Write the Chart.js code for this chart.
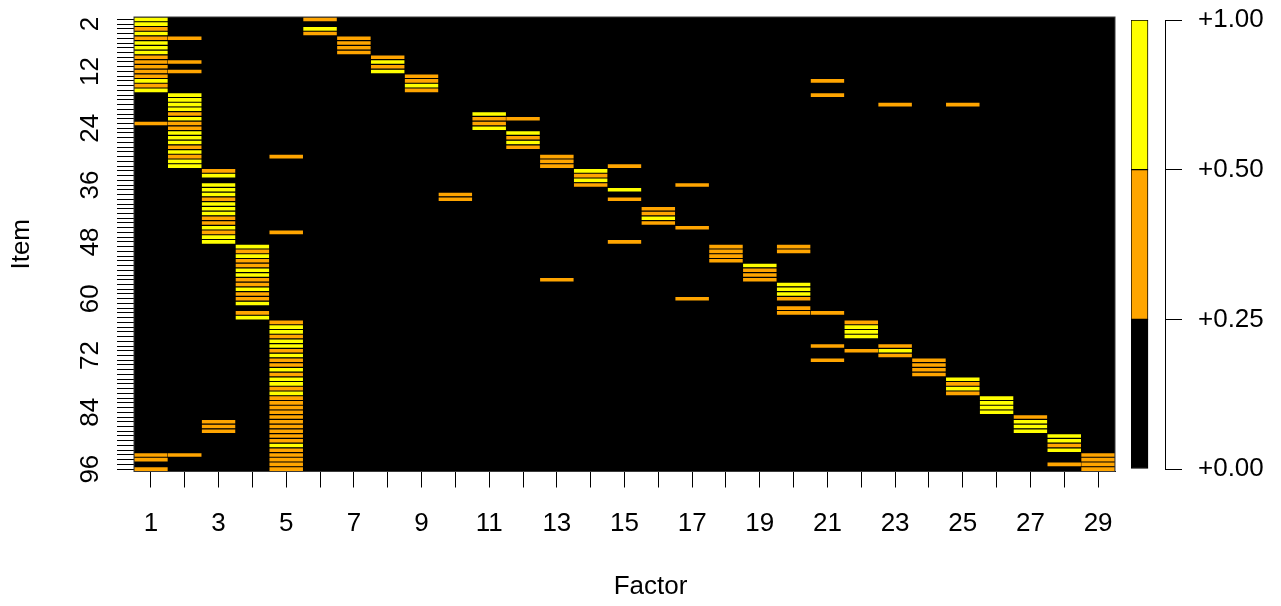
<!DOCTYPE html>
<html>
<head>
<meta charset="utf-8">
<title>Factor loadings</title>
<script src="https://cdn.jsdelivr.net/npm/chart.js"></script>
<style>
  html, body { margin: 0; padding: 0; background: #fff; }
  #wrap { position: relative; width: 1281px; height: 606px; }
  #loadings { position: absolute; left: 0; top: 0; }
  #key { position: absolute; left: 1120px; top: 0; }
</style>
</head>
<body>
<div id="wrap">
  <canvas id="loadings" width="1281" height="606"></canvas>
  <canvas id="key" width="161" height="606"></canvas>
</div>
<script>
// factors along x, items along y (1 at the top)
const factors = Array.from({ length: 29 }, (_, i) => String(i + 1));
const itemCount = 96;
const itemTicks = [2, 12, 24, 36, 48, 60, 72, 84, 96];

// items per factor with a loading in 0.25 - 0.50
const moderate = [
  [3, 5, 9, 10, 11, 12, 13, 15, 23, 93, 94, 96],
  [5, 10, 12, 21, 23, 24, 28, 30, 93],
  [33, 39, 43, 44, 46, 86, 87, 88],
  [50, 52, 53, 56, 57, 59, 60, 63],
  [30, 46, 65, 68, 71, 73, 74, 76, 79, 81, 82, 83, 84, 85, 86, 87, 88, 89, 90, 92, 93, 94, 95, 96],
  [1, 4],
  [5, 6, 7, 8],
  [9, 11],
  [13, 14, 16],
  [38, 39],
  [22, 23],
  [22, 26, 28],
  [30, 31, 32, 56],
  [34, 36],
  [32, 39, 48],
  [41, 42, 44],
  [36, 45, 60],
  [49, 50, 51, 52],
  [54, 55, 56],
  [49, 50, 60, 62, 63],
  [14, 17, 63, 70, 73],
  [65, 71],
  [19, 70, 72],
  [73, 74, 75, 76],
  [19, 78, 80],
  [],
  [85],
  [91, 95],
  [93, 94, 95, 96]
];

// items per factor with a loading in 0.50 - 1.00
const strong = [
  [1, 2, 4, 6, 7, 8, 14, 16],
  [17, 18, 19, 20, 22, 25, 26, 27, 29, 31, 32],
  [34, 36, 37, 38, 40, 41, 42, 45, 47, 48],
  [49, 51, 54, 55, 58, 61, 64],
  [66, 67, 69, 70, 72, 75, 77, 78, 80, 91],
  [3],
  [],
  [10, 12],
  [15],
  [],
  [21, 24],
  [25, 27],
  [],
  [33, 35],
  [37],
  [43],
  [],
  [],
  [53],
  [57, 58, 59],
  [],
  [66, 67, 68],
  [71],
  [],
  [77, 79],
  [81, 82, 83, 84],
  [86, 87, 88],
  [89, 90, 92],
  []
];

// colour key
const breaks = [0, 0.25, 0.5, 1];
const binColors = ['#000000', '#FFA500', '#FFFF00'];

Chart.defaults.font.family = '"Liberation Sans", Arial, Helvetica, sans-serif';
Chart.defaults.font.size = 26;
Chart.defaults.color = '#000';

function cells(groups) {
  const out = [];
  groups.forEach((items, f) => {
    items.forEach(it => out.push({ x: factors[f], y: [it - 0.5, it + 0.5] }));
  });
  return out;
}

const cellStyle = {
  borderColor: '#000',
  borderWidth: { top: 0.9, bottom: 0.9, left: 0.5, right: 0.5 },
  borderSkipped: false,
  grouped: false,
  barPercentage: 1,
  categoryPercentage: 1
};

// black plot region, its frame, and the x-axis caption
const plotBox = {
  id: 'plotBox',
  beforeDatasetsDraw(chart) {
    const a = chart.chartArea;
    const ctx = chart.ctx;
    ctx.save();
    ctx.fillStyle = '#000';
    ctx.fillRect(a.left, a.top, a.right - a.left, a.bottom - a.top);
    ctx.restore();
  },
  afterDatasetsDraw(chart) {
    const a = chart.chartArea;
    const ctx = chart.ctx;
    ctx.save();
    ctx.strokeStyle = '#3a3a3a';
    ctx.lineWidth = 1;
    ctx.strokeRect(a.left, a.top, a.right - a.left, a.bottom - a.top);
    ctx.fillStyle = '#000';
    ctx.font = Chart.helpers.toFont(Chart.defaults.font).string;
    ctx.textAlign = 'center';
    ctx.textBaseline = 'middle';
    ctx.fillText('Factor', (a.left + a.right) / 2 + 26, chart.height - 19);
    ctx.restore();
  }
};

new Chart(document.getElementById('loadings'), {
  type: 'bar',
  data: {
    labels: factors,
    datasets: [
      Object.assign({ label: '0.25 - 0.50', data: cells(moderate), backgroundColor: binColors[1] }, cellStyle),
      Object.assign({ label: '0.50 - 1.00', data: cells(strong), backgroundColor: binColors[2] }, cellStyle)
    ]
  },
  options: {
    responsive: false,
    animation: false,
    layout: { padding: { left: 0, right: 166, top: 17, bottom: 0 } },
    plugins: { legend: { display: false }, tooltip: { enabled: false } },
    scales: {
      x: {
        type: 'category',
        offset: true,
        grid: { offset: false, drawOnChartArea: false, tickLength: 16, color: '#000', lineWidth: 1 },
        border: { color: '#000' },
        ticks: {
          autoSkip: false,
          maxTicksLimit: 100,
          minRotation: 0,
          maxRotation: 0,
          padding: 21,
          callback: (v, i) => (i % 2 === 0 ? factors[i] : '')
        },
        afterFit: s => { s.height = 134.5; s.paddingLeft = 0; s.paddingRight = 0; }
      },
      y: {
        type: 'linear',
        min: 0.5,
        max: itemCount + 0.5,
        reverse: true,
        afterBuildTicks: s => {
          s.ticks = Array.from({ length: itemCount }, (_, i) => ({ value: i + 1 }));
        },
        grid: { drawOnChartArea: false, tickLength: 17, color: '#000', lineWidth: 1 },
        border: { color: '#000' },
        ticks: {
          autoSkip: false,
          maxTicksLimit: 200,
          minRotation: 90,
          maxRotation: 90,
          crossAlign: 'center',
          padding: 12,
          callback: v => (itemTicks.includes(v) ? String(v) : '')
        },
        title: { display: true, text: 'Item', padding: { top: 6, bottom: 0 } },
        afterFit: s => { s.width = 134; s.paddingTop = 0; s.paddingBottom = 0; }
      }
    }
  },
  plugins: [plotBox]
});

// colour key: one column of equal-height bins, labelled by the break values
new Chart(document.getElementById('key'), {
  type: 'bar',
  data: {
    labels: ['', ''],
    datasets: binColors.map((c, i) => ({
      data: [[i, i + 1], null],
      backgroundColor: c,
      borderColor: '#000',
      borderWidth: 1,
      borderSkipped: false,
      grouped: false,
      barPercentage: 1,
      categoryPercentage: 1
    }))
  },
  options: {
    responsive: false,
    animation: false,
    layout: { padding: { left: 11, right: 0, top: 20, bottom: 137 } },
    plugins: { legend: { display: false }, tooltip: { enabled: false } },
    scales: {
      x: { display: false },
      y: {
        position: 'right',
        min: 0,
        max: breaks.length - 1,
        afterBuildTicks: s => { s.ticks = breaks.map((b, i) => ({ value: i })); },
        grid: { drawOnChartArea: false, tickLength: 17, color: '#000', lineWidth: 1 },
        border: { color: '#000' },
        ticks: {
          autoSkip: false,
          padding: 16,
          callback: v => '+' + breaks[v].toFixed(2)
        },
        afterFit: s => { s.width = 116; s.paddingTop = 0; s.paddingBottom = 0; }
      }
    }
  }
});
</script>
</body>
</html>
